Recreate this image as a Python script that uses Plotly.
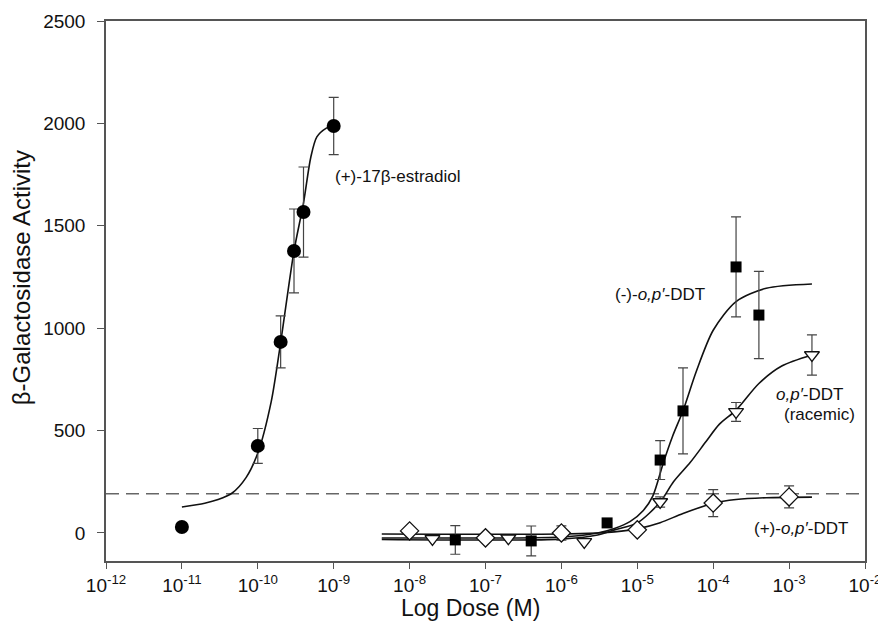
import plotly.graph_objects as go

# ---------------- data ----------------
# (+)-17beta-estradiol
e2_dose = [1e-11, 1e-10, 2e-10, 3e-10, 4e-10, 1e-9]
e2_act = [29, 425, 933, 1377, 1567, 1987]
e2_err = [0, 85, 127, 205, 220, 140]
e2_fit_dose = [1e-11, 2e-11, 3e-11, 4.6e-11, 7e-11, 1e-10, 1.5e-10, 2e-10, 3e-10,
               4e-10, 5e-10, 6e-10, 8e-10, 1e-9]
e2_fit_act = [127, 145, 163, 195, 270, 390, 640, 930, 1377, 1611, 1836, 1934, 1977, 1990]

# (-)-o,p'-DDT
neg_dose = [4e-8, 4e-7, 4e-6, 2e-5, 4e-5, 2e-4, 4e-4]
neg_act = [-34, -39, 49, 356, 596, 1299, 1064]
neg_err = [70, 73, 0, 95, 210, 244, 213]
neg_fit_dose = [4.3e-9, 1e-7, 1e-6, 3e-6, 5e-6, 8e-6, 1.2e-5, 1.6e-5, 2.2e-5, 2.9e-5,
                4e-5, 6e-5, 1e-4, 2e-4, 5e-4, 2e-3]
neg_fit_act = [-25, -25, -20, 0, 22, 55, 110, 180, 342, 470, 597, 790, 990, 1130, 1195, 1216]

# o,p'-DDT (racemic)
rac_dose = [2e-8, 2e-7, 2e-6, 2e-5, 2e-4, 2e-3]
rac_act = [-29, -26, -44, 151, 591, 869]
rac_err = [0, 0, 0, 25, 46, 98]
rac_fit_dose = [4.3e-9, 1e-6, 3e-6, 5e-6, 1e-5, 2e-5, 3e-5, 5e-5, 8e-5, 1.2e-4, 2e-4,
                4e-4, 8e-4, 2e-3]
rac_fit_act = [-32, -30, -10, 15, 49, 151, 250, 345, 445, 530, 600, 730, 815, 869]

# (+)-o,p'-DDT
pos_dose = [1e-8, 1e-7, 1e-6, 1e-5, 1e-4, 1e-3]
pos_act = [10, -24, 0, 15, 146, 176]
pos_err = [0, 0, 35, 0, 66, 54]
pos_fit_dose = [4.3e-9, 1e-6, 3e-6, 5e-6, 1e-5, 2e-5, 4e-5, 1e-4, 2e-4, 5e-4, 2e-3]
pos_fit_act = [-5, -5, 0, 5, 20, 50, 95, 145, 163, 172, 175]

threshold = 192

x_tick_vals = [1e-12, 1e-11, 1e-10, 1e-9, 1e-8, 1e-7, 1e-6, 1e-5, 1e-4, 1e-3, 1e-2]
x_tick_text = ["10<sup>-12</sup>", "10<sup>-11</sup>", "10<sup>-10</sup>", "10<sup>-9</sup>",
               "10<sup>-8</sup>", "10<sup>-7</sup>", "10<sup>-6</sup>", "10<sup>-5</sup>",
               "10<sup>-4</sup>", "10<sup>-3</sup>", "10<sup>-2</sup>"]
y_tick_vals = [0, 500, 1000, 1500, 2000, 2500]

FONT = "Liberation Sans, Arial, Helvetica, sans-serif"
INK = "#111111"
AXC = "#555555"

fig = go.Figure()

# fitted curves
for xd, yd in [(e2_fit_dose, e2_fit_act), (neg_fit_dose, neg_fit_act),
               (rac_fit_dose, rac_fit_act), (pos_fit_dose, pos_fit_act)]:
    fig.add_trace(go.Scatter(x=xd, y=yd, mode="lines",
                             line=dict(color=INK, width=1.6, shape="spline", smoothing=0.8),
                             hoverinfo="skip", showlegend=False))

def err(arr):
    return dict(type="data", array=arr, visible=True, color="#444444", thickness=1.2, width=5)

fig.add_trace(go.Scatter(x=e2_dose, y=e2_act, mode="markers", error_y=err(e2_err),
                         marker=dict(symbol="circle", size=14, color="#000000"),
                         name="(+)-17β-estradiol", showlegend=False))
fig.add_trace(go.Scatter(x=neg_dose, y=neg_act, mode="markers", error_y=err(neg_err),
                         marker=dict(symbol="square", size=11, color="#000000"),
                         name="(-)-o,p'-DDT", showlegend=False))
fig.add_trace(go.Scatter(x=rac_dose, y=rac_act, mode="markers", error_y=err(rac_err),
                         marker=dict(symbol="triangle-down", size=13, color="#ffffff",
                                     line=dict(color=INK, width=1.3)),
                         name="o,p'-DDT (racemic)", showlegend=False))
fig.add_trace(go.Scatter(x=pos_dose, y=pos_act, mode="markers", error_y=err(pos_err),
                         marker=dict(symbol="diamond", size=14, color="#ffffff",
                                     line=dict(color=INK, width=1.3)),
                         name="(+)-o,p'-DDT", showlegend=False))

fig.add_shape(type="line", xref="paper", x0=0, x1=1, yref="y", y0=threshold, y1=threshold,
              line=dict(color="#666666", width=1.5, dash="13px,7px"), layer="below")

ann_font = dict(family=FONT, size=17, color=INK)
fig.add_annotation(x=0.299, y=1743, xref="paper", yref="y", text="(+)-17β-estradiol",
                   showarrow=False, xanchor="left", font=ann_font)
fig.add_annotation(x=-5.32, y=1162, xref="x", yref="y", text="(-)-<i>o,p′</i>-DDT",
                   showarrow=False, xanchor="left", font=ann_font)
fig.add_annotation(x=-2.26, y=674, xref="x", yref="y", text="<i>o,p′</i>-DDT",
                   showarrow=False, xanchor="right", font=ann_font)
fig.add_annotation(x=-2.10, y=576, xref="x", yref="y", text="(racemic)",
                   showarrow=False, xanchor="right", font=ann_font)
fig.add_annotation(x=-2.20, y=24, xref="x", yref="y", text="(+)-<i>o,p′</i>-DDT",
                   showarrow=False, xanchor="right", font=ann_font)

# axis titles
title_font = dict(family=FONT, size=23, color=INK)
fig.add_annotation(x=0.48, y=-0.087, xref="paper", yref="paper", text="Log Dose (M)",
                   showarrow=False, xanchor="center", yanchor="middle", font=title_font)
fig.add_annotation(x=-0.111, y=0.525, xref="paper", yref="paper", text="β-Galactosidase Activity",
                   showarrow=False, xanchor="center", yanchor="middle", textangle=-90,
                   font=dict(family=FONT, size=24, color=INK))

# the page body adds an 8px offset; the figure is sized so the plot area lands where the reference has it
fig.update_layout(
    width=878, height=615,
    margin=dict(l=98, r=21, t=13, b=62),
    paper_bgcolor="#ffffff", plot_bgcolor="#ffffff",
    font=dict(family=FONT, color=INK),
    showlegend=False,
    xaxis=dict(type="log", range=[-12, -2], tickvals=x_tick_vals, ticktext=x_tick_text,
               showline=True, linecolor=AXC, linewidth=1.5, mirror=True,
               ticks="outside", ticklen=6, tickcolor=AXC, tickwidth=1.2,
               showgrid=False, zeroline=False, automargin=False,
               tickfont=dict(family=FONT, size=19, color=INK)),
    yaxis=dict(range=[-137, 2500], tickvals=y_tick_vals,
               showline=True, linecolor=AXC, linewidth=1.5, mirror=True,
               ticks="outside", ticklen=7, tickcolor=AXC, tickwidth=1.2,
               showgrid=False, zeroline=False, ticklabelstandoff=8, automargin=False,
               tickfont=dict(family=FONT, size=19, color=INK)),
)

fig.write_html("out.html")
